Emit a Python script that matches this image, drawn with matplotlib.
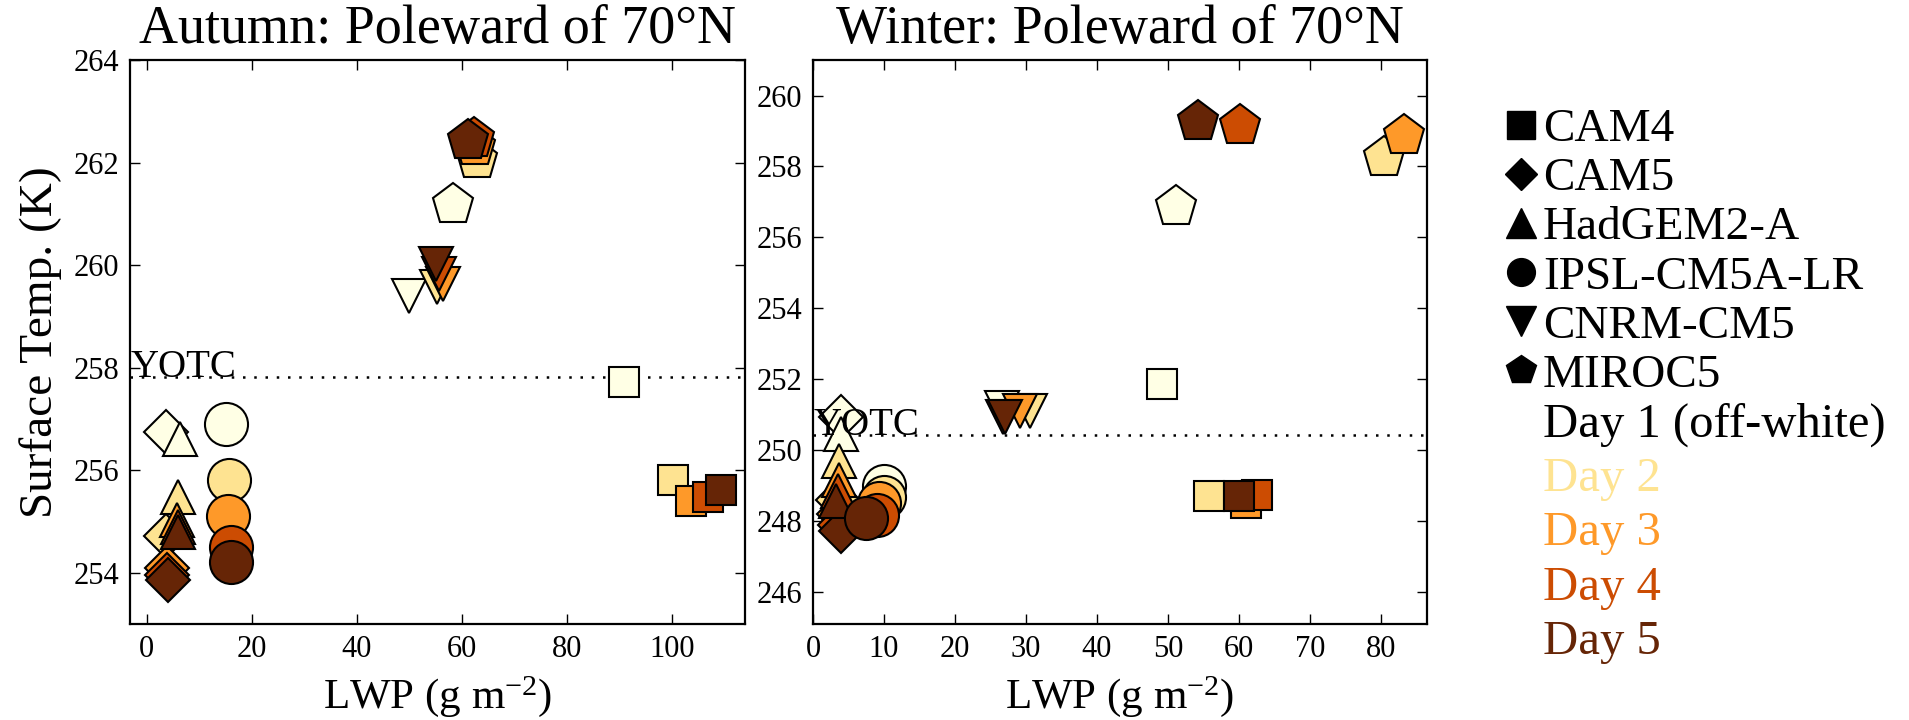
import matplotlib
matplotlib.use("Agg")
import matplotlib.pyplot as plt
from matplotlib.lines import Line2D

plt.rcParams['font.family'] = ['Liberation Serif', 'DejaVu Serif']
plt.rcParams['mathtext.default'] = 'regular'

# Models, their markers, days and day colours
models = ['CAM4', 'CAM5', 'HadGEM2-A', 'IPSL-CM5A-LR', 'CNRM-CM5', 'MIROC5']
model_markers = ['s', 'D', '^', 'o', 'v', 'p']
day_labels = ['Day 1 (off-white)', 'Day 2', 'Day 3', 'Day 4', 'Day 5']
day_colors = ['#ffffe5', '#fee391', '#fe9929', '#cc4c02', '#662506']

# Autumn (poleward of 70N): LWP (g m-2) and surface temperature (K), days 1-5
autumn_lwp = {
    'CAM4': [90.8, 100.1, 103.6, 106.9, 109.3],
    'CAM5': [3.7, 3.7, 3.8, 3.9, 4.0],
    'HadGEM2-A': [6.4, 5.9, 5.8, 5.9, 5.9],
    'IPSL-CM5A-LR': [15.0, 15.6, 15.4, 16.0, 16.1],
    'CNRM-CM5': [49.9, 55.2, 56.4, 55.6, 55.0],
    'MIROC5': [58.3, 62.9, 62.5, 62.2, 61.2],
}
autumn_ts = {
    'CAM4': [257.72, 255.80, 255.39, 255.47, 255.62],
    'CAM5': [256.74, 254.72, 254.10, 253.95, 253.86],
    'HadGEM2-A': [256.60, 255.47, 255.03, 254.90, 254.80],
    'IPSL-CM5A-LR': [256.90, 255.80, 255.11, 254.50, 254.20],
    'CNRM-CM5': [259.40, 259.57, 259.63, 259.82, 260.02],
    'MIROC5': [261.17, 262.05, 262.30, 262.46, 262.42],
}
autumn_yotc = 257.82

# Winter (poleward of 70N)
winter_lwp = {
    'CAM4': [49.2, 55.8, 61.0, 62.5, 60.0],
    'CAM5': [3.9, 3.5, 3.7, 3.8, 3.9],
    'HadGEM2-A': [3.9, 3.7, 3.7, 3.5, 3.3],
    'IPSL-CM5A-LR': [10.0, 10.0, 9.3, 9.0, 7.4],
    'CNRM-CM5': [26.6, 30.5, 29.1, 26.8, 27.0],
    'MIROC5': [51.2, 80.5, 83.2, 60.2, 54.2],
}
winter_ts = {
    'CAM4': [251.88, 248.70, 248.50, 248.75, 248.70],
    'CAM5': [250.93, 248.60, 248.20, 247.90, 247.73],
    'HadGEM2-A': [250.45, 249.70, 249.15, 248.85, 248.57],
    'IPSL-CM5A-LR': [249.00, 248.68, 248.50, 248.17, 248.08],
    'CNRM-CM5': [251.18, 251.10, 251.10, 250.95, 250.93],
    'MIROC5': [256.85, 258.25, 258.87, 259.13, 259.25],
}
winter_yotc = 250.43

# marker sizes (pt) in the panels and in the legend
plot_ms = {'s': 22, 'D': 22, '^': 25, 'o': 31, 'v': 25, 'p': 31}
legend_ms = {'s': 20, 'D': 16, '^': 21, 'o': 20, 'v': 21, 'p': 22}


def draw_panel(ax, lwp, ts, yotc, title, xlim, ylim, xticks, yticks):
    """Scatter every model/day point, the YOTC line and style the axes."""
    z = 3
    for model, mk in zip(models, model_markers):
        for d in range(len(day_colors)):
            ax.plot(lwp[model][d], ts[model][d], ls='none', marker=mk,
                    ms=plot_ms[mk], mfc=day_colors[d], mec='black', mew=1.5,
                    zorder=z)
            z += 1
    ax.axhline(yotc, color='black', ls=(0, (1, 3.5)), lw=1.8, zorder=1)
    ax.text(xlim[0] + 0.1, yotc, 'YOTC', fontsize=28, va='baseline', ha='left',
            zorder=100)
    ax.set_xlim(*xlim)
    ax.set_ylim(*ylim)
    ax.set_xticks(xticks)
    ax.set_yticks(yticks)
    ax.set_title(title, fontsize=39, pad=12)
    ax.set_xlabel('LWP (g m$^{-2}$)', fontsize=31, labelpad=7)
    ax.tick_params(direction='in', top=True, right=True, length=7, width=1,
                   labelsize=22, pad=8)
    for sp in ax.spines.values():
        sp.set_linewidth(1.6)


fig = plt.figure(figsize=(19.09, 7.2), dpi=100)
ax1 = fig.add_axes([0.0681, 0.1333, 0.3222, 0.7833])
ax2 = fig.add_axes([0.4259, 0.1333, 0.3216, 0.7833])

draw_panel(ax1, autumn_lwp, autumn_ts, autumn_yotc, 'Autumn: Poleward of 70\u00b0N',
           (-3.2, 113.9), (253, 264), range(0, 101, 20), range(254, 265, 2))
draw_panel(ax2, winter_lwp, winter_ts, winter_yotc, 'Winter: Poleward of 70\u00b0N',
           (0, 86.5), (245.1, 261), range(0, 81, 10), range(246, 261, 2))
ax1.set_ylabel('Surface Temp. (K)', fontsize=34, labelpad=8)

# legend: models (black markers)
model_handles = [Line2D([], [], ls='none', marker=mk, color='black',
                        ms=legend_ms[mk]) for mk in model_markers]
leg1 = fig.legend(model_handles, models, loc='upper left',
                  bbox_to_anchor=(0.788, 0.85), frameon=False, fontsize=34,
                  handlelength=0.7, handletextpad=0.12, labelspacing=0.13,
                  borderpad=0, borderaxespad=0)

# legend: days (coloured text only)
day_handles = [Line2D([], [], ls='none') for _ in day_labels]
leg2 = fig.legend(day_handles, day_labels, loc='upper left',
                  bbox_to_anchor=(0.8083, 0.441), frameon=False, fontsize=35,
                  handlelength=0, handletextpad=0, labelspacing=0.21,
                  borderpad=0, borderaxespad=0)
for txt, col in zip(leg2.get_texts(), ['black'] + day_colors[1:]):
    txt.set_color(col)

fig.savefig('out.png', dpi=100)
